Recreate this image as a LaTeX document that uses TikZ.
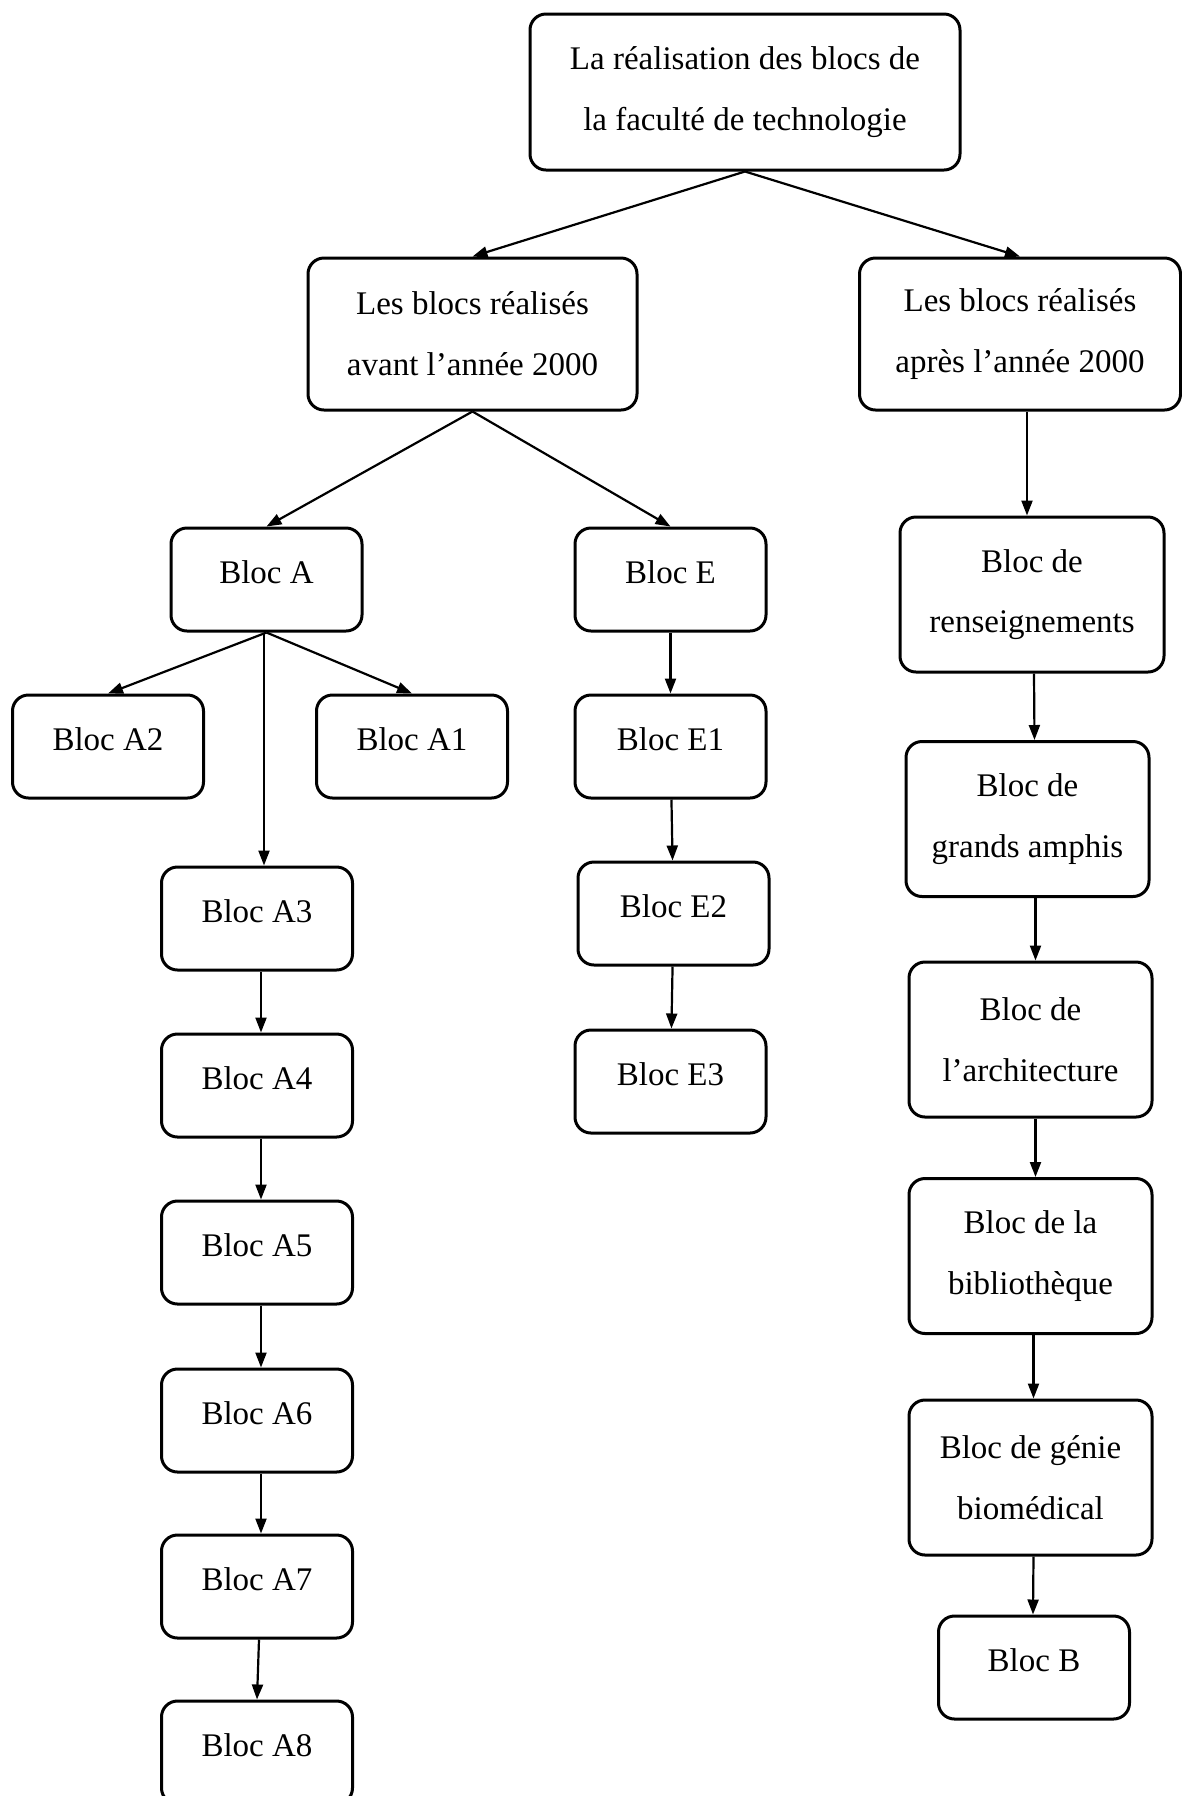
\documentclass[tikz,border=0pt]{standalone}
\usepackage{fontspec}
\setmainfont{Liberation Serif}
\usetikzlibrary{arrows.meta}
\tikzset{
  blk/.style={draw, line width=1.5pt, rounded corners=8pt, align=center, inner sep=0pt,
    font=\fontsize{16.5}{30.4}\selectfont},
  sbox/.style={blk, minimum width=95.5pt, minimum height=51.5pt, text depth=7pt},
  arr/.style={line width=1.1pt, -{Triangle[length=7.5pt,width=5.5pt]}},
}
\begin{document}
\begin{tikzpicture}[x=0.5pt,y=-0.5pt]
\useasboundingbox (0,0) rectangle (1182,1796);
\clip (0,0) rectangle (1182,1796);
\node[blk, minimum width=215pt, minimum height=78pt] (top) at (745,92) {La réalisation des blocs de\\la faculté de technologie};
\node[blk, minimum width=164.5pt, minimum height=76pt] (avant) at (472.5,334) {Les blocs réalisés\\avant l’année 2000};
\node[blk, minimum width=160.5pt, minimum height=76pt] (apres) at (1020,334) {Les blocs réalisés\\après l’année 2000};
\node[sbox] (A) at (266.5,579.5) {Bloc A};
\node[sbox] (E) at (670.5,579.5) {Bloc E};
\node[sbox] (A2) at (108,746.5) {Bloc A2};
\node[sbox] (A1) at (412,746.5) {Bloc A1};
\node[sbox] (E1) at (670.5,746.5) {Bloc E1};
\node[sbox] (E2) at (673.5,913.5) {Bloc E2};
\node[sbox] (E3) at (670.5,1081.5) {Bloc E3};
\node[sbox] (A3) at (257,918.5) {Bloc A3};
\node[sbox] (A4) at (257,1085.5) {Bloc A4};
\node[sbox] (A5) at (257,1252.5) {Bloc A5};
\node[sbox] (A6) at (257,1420.5) {Bloc A6};
\node[sbox] (A7) at (257,1586.5) {Bloc A7};
\node[sbox] (A8) at (257,1752.5) {Bloc A8};
\node[blk, minimum width=132pt, minimum height=77.5pt] (R) at (1032,594.5) {Bloc de\\renseignements};
\node[blk, minimum width=121.5pt, minimum height=77.5pt] (G) at (1027.5,819) {Bloc de\\grands amphis};
\node[blk, minimum width=121.5pt, minimum height=77.5pt] (Ar) at (1030.5,1039.5) {Bloc de\\l’architecture};
\node[blk, minimum width=121.5pt, minimum height=77.5pt] (Bi) at (1030.5,1256) {Bloc de la\\bibliothèque};
\node[blk, minimum width=121.5pt, minimum height=77.5pt] (Ge) at (1030.5,1477.5) {Bloc de génie\\biomédical};
\node[sbox] (B) at (1034,1667.5) {Bloc B};

\draw[arr] (top.south) -- (avant.north);
\draw[arr] (top.south) -- (apres.north);
\draw[arr] (avant.south) -- (A.north);
\draw[arr] (avant.south) -- (E.north);
\draw[arr] ([xshift=3.5pt]apres.south) -- ([xshift=-2.5pt]R.north);
\draw[arr] (A.south) -- (A2.north);
\draw[arr] (A.south) -- (A1.north);
\draw[arr] ([xshift=-1.25pt]A.south) -- ([xshift=3.5pt]A3.north);
\draw[arr] ([xshift=2pt]A3.south) -- ([xshift=2pt]A4.north);
\draw[arr] ([xshift=2pt]A4.south) -- ([xshift=2pt]A5.north);
\draw[arr] ([xshift=2pt]A5.south) -- ([xshift=2pt]A6.north);
\draw[arr] ([xshift=2pt]A6.south) -- ([xshift=2pt]A7.north);
\draw[arr] ([xshift=1pt]A7.south) -- ([xshift=0pt]A8.north);
\draw[arr] (E) -- (E1);
\draw[arr] (E1) -- (E2);
\draw[arr] (E2) -- (E3);
\draw[arr] ([xshift=1pt]R.south) -- ([xshift=3.5pt]G.north);
\draw[arr] ([xshift=4pt]G.south) -- ([xshift=2.5pt]Ar.north);
\draw[arr] ([xshift=2.5pt]Ar.south) -- ([xshift=2.5pt]Bi.north);
\draw[arr] ([xshift=1.5pt]Bi.south) -- ([xshift=1.5pt]Ge.north);
\draw[arr] ([xshift=1.5pt]Ge.south) -- ([xshift=-0.5pt]B.north);
\end{tikzpicture}
\end{document}
